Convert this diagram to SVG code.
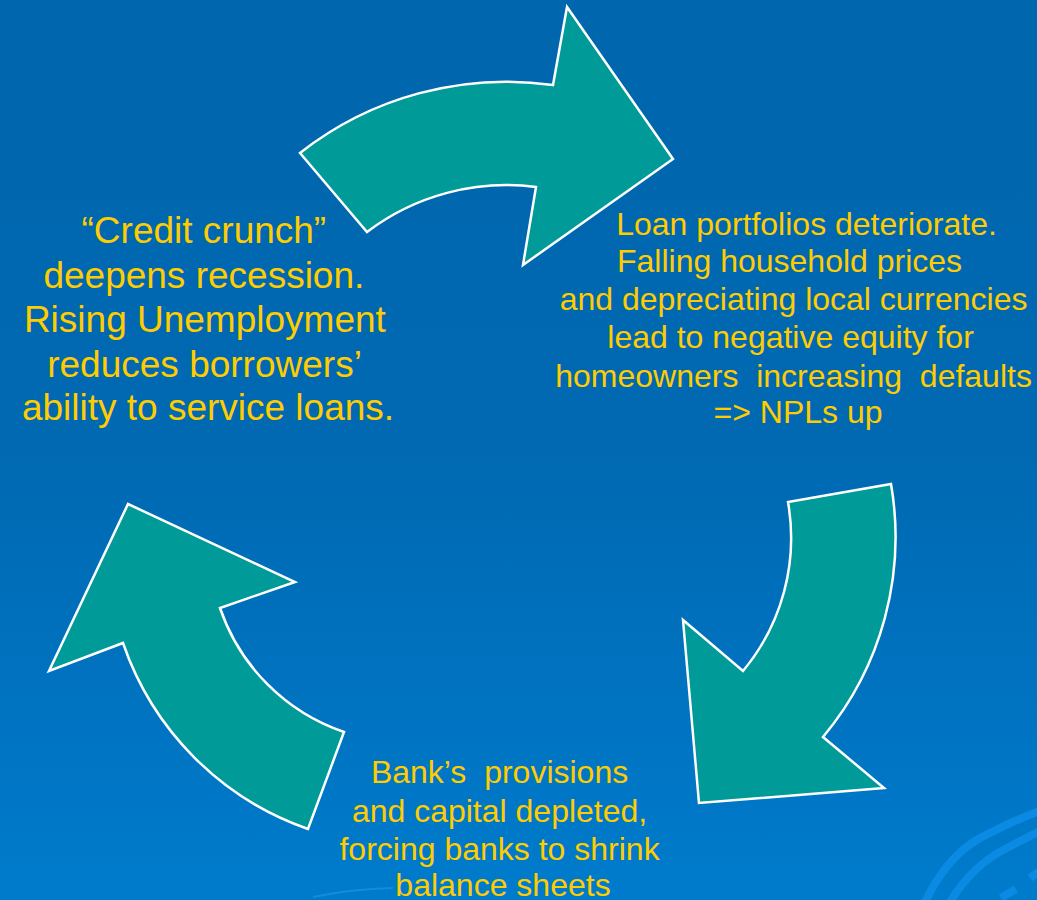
<svg xmlns="http://www.w3.org/2000/svg" width="1037" height="900" viewBox="0 0 1037 900">
  <defs>
    <linearGradient id="bg" x1="0" y1="0" x2="0" y2="1">
      <stop offset="0" stop-color="#0066AD"/>
      <stop offset="0.5" stop-color="#0069B2"/>
      <stop offset="1" stop-color="#007BCC"/>
    </linearGradient>
    <style>
      .arrow { fill: #009A98; stroke: #FFFFFF; stroke-width: 2.5; stroke-linejoin: miter; }
      .label { fill: #FFCC00; font-family: "Liberation Sans", Arial, sans-serif; text-anchor: middle; }
      .swirl { fill: none; stroke: #0A8AE2; stroke-width: 8; }
    </style>
  </defs>

  <!-- backdrop -->
  <rect x="0" y="0" width="1037" height="900" fill="url(#bg)"/>
  <g id="backdrop-swirls">
    <path class="swirl" d="M 925 902 Q 950 850 990 833 Q 1015 820 1040 811"/>
    <path class="swirl" d="M 950 902 Q 972 866 1005 849 Q 1022 840 1040 831"/>
    <path class="swirl" d="M 1001 898 L 1016 889"/>
    <path class="swirl" d="M 1030 878 L 1040 871"/>
    <path d="M 313 897 Q 350 889 393 888" fill="none" stroke="#1E8EE0" stroke-width="2" opacity="0.8"/>
  </g>

  <!-- connectors: the three curved arrows of the cycle -->
  <g id="connectors">
    <path id="arrow-top" class="arrow" d="M 300 153 A 334 334 0 0 1 553 85 L 567 7 L 673 159 L 523 265 L 536 187 A 231 231 0 0 0 367 232 Z"/>
    <path id="arrow-right" class="arrow" d="M 891 484 A 312 312 0 0 1 823 737 L 884 788 L 699 803 L 683 620 L 743 671 A 208 208 0 0 0 788 502 Z"/>
    <path id="arrow-left" class="arrow" d="M 308 829 A 300 300 0 0 1 123 643 L 49 671 L 128 504 L 295 582 L 220 608 A 199 199 0 0 0 344 732 Z"/>
  </g>

  <!-- stage: credit crunch -->
  <g id="node-credit-crunch">
    <text class="label" font-size="37">
      <tspan x="209" y="243">“Credit crunch”</tspan>
      <tspan x="209" y="288">deepens recession.</tspan>
      <tspan x="210" y="332">Rising Unemployment</tspan>
      <tspan x="209" y="377">reduces borrowers’</tspan>
      <tspan x="208" y="420">ability to service loans.</tspan>
    </text>
  </g>

  <!-- stage: loan portfolios -->
  <g id="node-loan-portfolios">
    <text class="label" font-size="32">
      <tspan x="811" y="235">Loan portfolios deteriorate.</tspan>
      <tspan x="794" y="272">Falling household prices</tspan>
      <tspan x="798" y="310">and depreciating local currencies</tspan>
      <tspan x="795" y="348">lead to negative equity for</tspan>
      <tspan x="798" y="387" xml:space="preserve">homeowners  increasing  defaults</tspan>
      <tspan x="798" y="423">=&gt; NPLs up</tspan>
    </text>
  </g>

  <!-- stage: bank capital -->
  <g id="node-bank-capital">
    <text class="label" font-size="32">
      <tspan x="504" y="783" xml:space="preserve">Bank’s  provisions</tspan>
      <tspan x="504" y="822">and capital depleted,</tspan>
      <tspan x="504" y="860">forcing banks to shrink</tspan>
      <tspan x="503" y="896">balance sheets</tspan>
    </text>
  </g>
</svg>
